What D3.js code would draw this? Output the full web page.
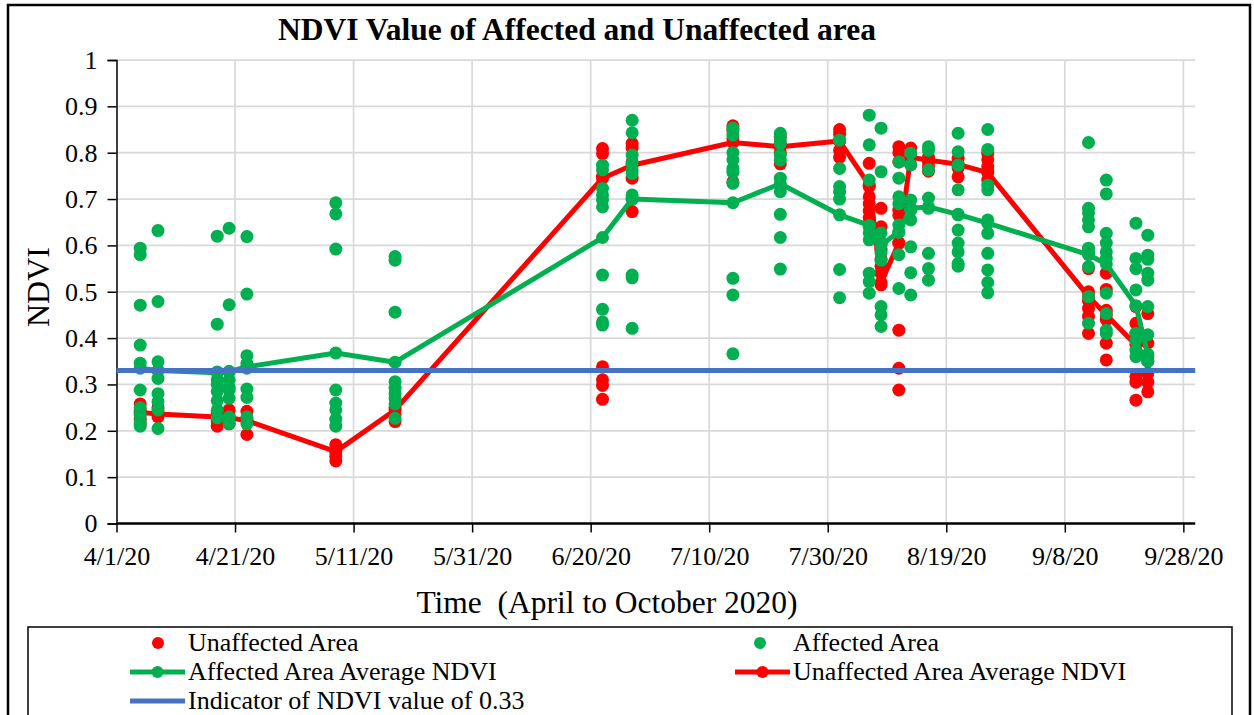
<!DOCTYPE html>
<html>
<head>
<meta charset="utf-8">
<script src="https://cdn.jsdelivr.net/npm/d3@7"></script>
<style>
  html, body { margin: 0; padding: 0; background: #fff; }
  svg { display: block; }
  svg text { font-family: "Liberation Serif", "Times New Roman", serif !important; fill: #000; }
</style>
</head>
<body>
<div id="chart"></div>
<script>
// observation dates (one column of dots per date)
const obsDates = ["2020-04-05", "2020-04-08", "2020-04-18", "2020-04-20", "2020-04-23",
  "2020-05-08", "2020-05-18", "2020-06-22", "2020-06-27", "2020-07-14", "2020-07-22",
  "2020-08-01", "2020-08-06", "2020-08-08", "2020-08-11", "2020-08-13", "2020-08-16",
  "2020-08-21", "2020-08-26", "2020-09-12", "2020-09-15", "2020-09-20", "2020-09-22"];

// unaffected area NDVI samples per date
const unaffectedValues = [
  [0.258, 0.245, 0.235, 0.225, 0.215],
  [0.25, 0.24, 0.23],
  [0.24, 0.22, 0.21],
  [0.245, 0.232, 0.215],
  [0.242, 0.225, 0.192],
  [0.17, 0.158, 0.145, 0.135],
  [0.25, 0.235, 0.22],
  [0.809, 0.798, 0.75, 0.338, 0.31, 0.298, 0.268],
  [0.82, 0.81, 0.78, 0.745, 0.673],
  [0.858, 0.848, 0.83, 0.737],
  [0.835, 0.82, 0.80, 0.776],
  [0.85, 0.84, 0.825, 0.805, 0.79],
  [0.777, 0.727, 0.705, 0.69, 0.675, 0.66, 0.648],
  [0.68, 0.64, 0.605, 0.59, 0.57, 0.555, 0.54, 0.515],
  [0.813, 0.80, 0.78, 0.676, 0.665, 0.605, 0.417, 0.335, 0.288],
  [0.81, 0.79, 0.774],
  [0.791, 0.78, 0.77, 0.76],
  [0.788, 0.767, 0.748],
  [0.799, 0.785, 0.77, 0.76, 0.741],
  [0.583, 0.55, 0.50, 0.48, 0.464, 0.447, 0.41],
  [0.54, 0.505, 0.46, 0.44, 0.389, 0.353],
  [0.468, 0.432, 0.41, 0.317, 0.305, 0.266],
  [0.453, 0.389, 0.36, 0.324, 0.305, 0.284]
];

// affected area NDVI samples per date
const affectedValues = [
  [0.594, 0.58, 0.471, 0.385, 0.346, 0.288, 0.25, 0.235, 0.22, 0.21],
  [0.632, 0.479, 0.349, 0.33, 0.313, 0.28, 0.263, 0.245, 0.205],
  [0.62, 0.43, 0.327, 0.31, 0.30, 0.285, 0.265, 0.245, 0.228],
  [0.637, 0.472, 0.328, 0.31, 0.295, 0.288, 0.27, 0.23, 0.216],
  [0.619, 0.495, 0.362, 0.345, 0.335, 0.29, 0.272, 0.23, 0.215],
  [0.692, 0.668, 0.592, 0.288, 0.26, 0.245, 0.225, 0.21],
  [0.576, 0.568, 0.456, 0.306, 0.292, 0.28, 0.27, 0.258, 0.227],
  [0.773, 0.763, 0.723, 0.709, 0.698, 0.683, 0.536, 0.462, 0.435, 0.428],
  [0.87, 0.843, 0.795, 0.778, 0.763, 0.755, 0.709, 0.70, 0.536, 0.53, 0.421],
  [0.853, 0.838, 0.80, 0.785, 0.766, 0.758, 0.734, 0.529, 0.493, 0.366],
  [0.842, 0.83, 0.82, 0.795, 0.784, 0.745, 0.716, 0.667, 0.617, 0.549],
  [0.827, 0.766, 0.727, 0.715, 0.70, 0.548, 0.487],
  [0.881, 0.817, 0.741, 0.64, 0.627, 0.612, 0.54, 0.522, 0.497],
  [0.853, 0.759, 0.627, 0.605, 0.584, 0.568, 0.468, 0.45, 0.425],
  [0.78, 0.745, 0.705, 0.69, 0.644, 0.628, 0.58, 0.507],
  [0.799, 0.774, 0.698, 0.676, 0.655, 0.597, 0.541, 0.493],
  [0.813, 0.805, 0.763, 0.702, 0.68, 0.583, 0.55, 0.525],
  [0.842, 0.802, 0.773, 0.72, 0.666, 0.633, 0.605, 0.586, 0.561, 0.555],
  [0.85, 0.807, 0.73, 0.72, 0.655, 0.626, 0.583, 0.547, 0.52, 0.498],
  [0.822, 0.68, 0.67, 0.655, 0.64, 0.594, 0.585, 0.554, 0.489, 0.432],
  [0.741, 0.711, 0.626, 0.605, 0.586, 0.572, 0.497, 0.453, 0.417, 0.41],
  [0.648, 0.572, 0.55, 0.504, 0.41, 0.395, 0.374, 0.36],
  [0.622, 0.579, 0.57, 0.54, 0.525, 0.468, 0.407, 0.364, 0.35]
];

// average lines
const affectedAvg = [0.335, 0.33, 0.325, 0.328, 0.338, 0.368, 0.348, 0.617, 0.70, 0.692, 0.733,
  0.666, 0.643, 0.60, 0.63, 0.68, 0.683, 0.667, 0.648, 0.58, 0.56, 0.47, 0.365];
const unaffectedAvg = [0.24, 0.236, 0.23, 0.228, 0.222, 0.155, 0.245, 0.745, 0.773, 0.822, 0.813,
  0.825, 0.73, 0.52, 0.605, 0.79, 0.784, 0.775, 0.757, 0.49, 0.45, 0.385, 0.35];

const indicatorValue = 0.33;

const xTickDates = ["2020-04-01", "2020-04-21", "2020-05-11", "2020-05-31", "2020-06-20",
  "2020-07-10", "2020-07-30", "2020-08-19", "2020-09-08", "2020-09-28"];
const yTicks = [0, 0.1, 0.2, 0.3, 0.4, 0.5, 0.6, 0.7, 0.8, 0.9, 1];

const legendItems = [
  { label: "Unaffected Area", color: "#FF0000", kind: "dot", col: 0, row: 0 },
  { label: "Affected Area", color: "#00B050", kind: "dot", col: 1, row: 0 },
  { label: "Affected Area Average NDVI", color: "#00B050", kind: "linedot", col: 0, row: 1 },
  { label: "Unaffected Area Average NDVI", color: "#FF0000", kind: "linedot", col: 1, row: 1 },
  { label: "Indicator of NDVI value of 0.33", color: "#4472C4", kind: "line", col: 0, row: 2 }
];

const WIDTH = 1254, HEIGHT = 715;
const RED = "#FF0000", GREEN = "#00B050", BLUE = "#4472C4";
const SERIF = '"Liberation Serif", "Times New Roman", serif';
const parse = d3.utcParse("%Y-%m-%d");

const svg = d3.select("#chart").append("svg")
  .attr("width", WIDTH).attr("height", HEIGHT);

// outer chart frame
svg.append("rect")
  .attr("x", 8).attr("y", 5).attr("width", 1242).attr("height", 720)
  .attr("fill", "none").attr("stroke", "#000").attr("stroke-width", 2.5);

const x = d3.scaleUtc()
  .domain([parse("2020-04-01"), parse("2020-09-30")])
  .range([116.5, 1195.2]);
const y = d3.scaleLinear().domain([0, 1]).range([523.5, 60]);

// gridlines
const grid = svg.append("g");
grid.selectAll("line.h").data(yTicks.slice(1)).join("line")
  .attr("x1", x.range()[0]).attr("x2", x.range()[1])
  .attr("y1", d => y(d)).attr("y2", d => y(d))
  .attr("stroke", "#d9d9d9").attr("stroke-width", 1.75);
grid.selectAll("line.v").data(xTickDates.slice(1)).join("line")
  .attr("x1", d => x(parse(d))).attr("x2", d => x(parse(d)))
  .attr("y1", y(0)).attr("y2", y(1))
  .attr("stroke", "#d9d9d9").attr("stroke-width", 1.75);

// axes
const yAxis = svg.append("g")
  .attr("transform", `translate(${x.range()[0]},0)`)
  .call(d3.axisLeft(y).tickValues(yTicks).tickSize(9).tickPadding(10)
    .tickFormat(d => d3.format("~g")(d)));
yAxis.attr("font-family", null).attr("font-size", null);
yAxis.select(".domain").attr("stroke", "#000").attr("stroke-width", 1.5);
yAxis.selectAll(".tick line").attr("stroke", "#000").attr("stroke-width", 1.5);
yAxis.selectAll(".tick text").style("font-size", "26px").style("font-family", SERIF)
  .attr("fill", "#000");

const fmt = d3.utcFormat("%-m/%-d/%y");
const xAxis = svg.append("g")
  .attr("transform", `translate(0,${y(0)})`)
  .call(d3.axisBottom(x).tickValues(xTickDates.map(parse)).tickSize(9).tickPadding(14)
    .tickFormat(fmt));
xAxis.attr("font-family", null).attr("font-size", null);
xAxis.select(".domain").attr("stroke", "#000").attr("stroke-width", 2.5)
  .attr("d", `M${x.range()[0]},0H${x.range()[1]}`);
xAxis.selectAll(".tick line").attr("stroke", "#000").attr("stroke-width", 1.5);
xAxis.selectAll(".tick text").style("font-size", "26px").style("font-family", SERIF)
  .attr("fill", "#000");

// flatten samples
const flat = (vals) => obsDates.flatMap((d, i) => vals[i].map(v => ({ date: parse(d), v })));
const avgPts = (vals) => obsDates.map((d, i) => ({ date: parse(d), v: vals[i] }));
const line = d3.line().x(d => x(d.date)).y(d => y(d.v));
const R = 6.5;

// unaffected scatter
svg.append("g").selectAll("circle").data(flat(unaffectedValues)).join("circle")
  .attr("cx", d => x(d.date)).attr("cy", d => y(d.v)).attr("r", R).attr("fill", RED);

// unaffected average
const ua = avgPts(unaffectedAvg);
svg.append("path").datum(ua).attr("d", line)
  .attr("fill", "none").attr("stroke", RED).attr("stroke-width", 5).attr("stroke-linejoin", "round");
svg.append("g").selectAll("circle").data(ua).join("circle")
  .attr("cx", d => x(d.date)).attr("cy", d => y(d.v)).attr("r", R).attr("fill", RED);

// affected scatter
svg.append("g").selectAll("circle").data(flat(affectedValues)).join("circle")
  .attr("cx", d => x(d.date)).attr("cy", d => y(d.v)).attr("r", R).attr("fill", GREEN);

// affected average
const aa = avgPts(affectedAvg);
svg.append("path").datum(aa).attr("d", line)
  .attr("fill", "none").attr("stroke", GREEN).attr("stroke-width", 5).attr("stroke-linejoin", "round");
svg.append("g").selectAll("circle").data(aa).join("circle")
  .attr("cx", d => x(d.date)).attr("cy", d => y(d.v)).attr("r", R).attr("fill", GREEN);

// indicator line
svg.append("line")
  .attr("x1", x.range()[0]).attr("x2", x.range()[1])
  .attr("y1", y(indicatorValue)).attr("y2", y(indicatorValue))
  .attr("stroke", BLUE).attr("stroke-width", 5);

// titles
svg.append("text")
  .attr("x", 577).attr("y", 40).attr("text-anchor", "middle")
  .style("font-size", "31.5px").attr("font-weight", "bold")
  .text("NDVI Value of Affected and Unaffected area");

svg.append("text")
  .attr("x", 607).attr("y", 613).attr("text-anchor", "middle")
  .style("font-size", "31.5px").style("white-space", "pre")
  .text("Time  (April to October 2020)");

svg.append("text")
  .attr("transform", "translate(49,287) rotate(-90)")
  .attr("text-anchor", "middle").style("font-size", "32px")
  .text("NDVI");

// legend
const legend = svg.append("g");
legend.append("rect")
  .attr("x", 28).attr("y", 627).attr("width", 1204).attr("height", 120)
  .attr("fill", "#fff").attr("stroke", "#000").attr("stroke-width", 1.5);

const colX = [130, 735];
const rowY = [643, 672, 701];
legendItems.forEach(it => {
  const g = legend.append("g")
    .attr("transform", `translate(${colX[it.col]},${rowY[it.row]})`);
  if (it.kind === "dot") {
    g.append("circle").attr("cx", it.col === 0 ? 28 : 25).attr("cy", 0).attr("r", 6).attr("fill", it.color);
  } else {
    g.append("line").attr("x1", 0).attr("x2", 55).attr("y1", 0).attr("y2", 0)
      .attr("stroke", it.color).attr("stroke-width", 5);
    if (it.kind === "linedot") {
      g.append("circle").attr("cx", 27.5).attr("cy", 0).attr("r", 6).attr("fill", it.color);
    }
  }
  g.append("text")
    .attr("x", 58).attr("y", 8)
    .style("font-size", "26px").text(it.label);
});
</script>
</body>
</html>
